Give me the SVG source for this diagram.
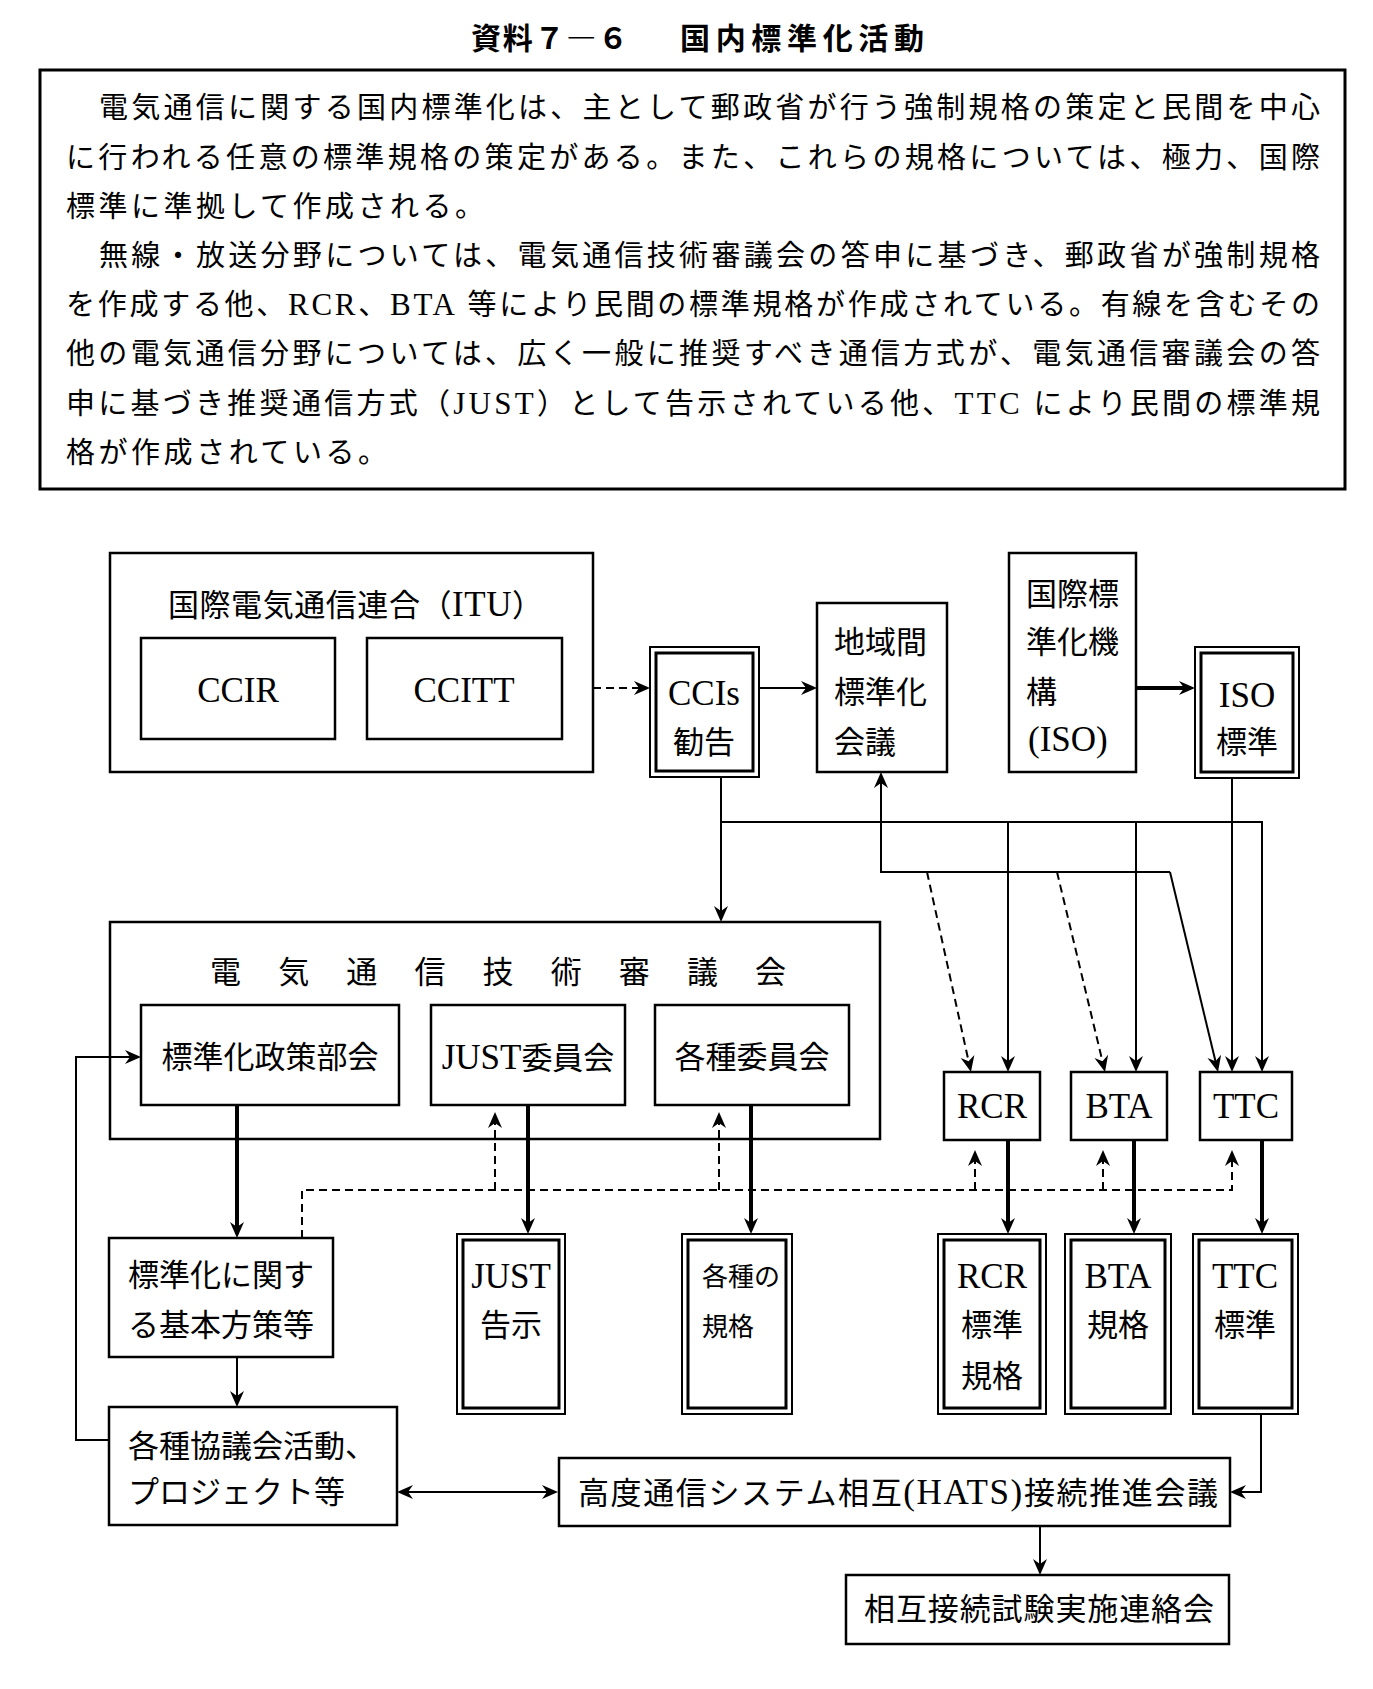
<svg xmlns="http://www.w3.org/2000/svg" width="1373" height="1689" viewBox="0 0 1373 1689">
<style>
.bg{fill:#fff}
.box{fill:#fff;stroke:#000;stroke-width:2.5}
.open{fill:none;stroke:#000;stroke-width:2.5}
.dbo{fill:#fff;stroke:#000;stroke-width:2}
.dbi{fill:none;stroke:#000;stroke-width:3}
.ln{fill:none;stroke:#000;stroke-width:2}
.thick{fill:none;stroke:#000;stroke-width:4}
.dash{fill:none;stroke:#000;stroke-width:2;stroke-dasharray:8 5}
text{font-family:"Liberation Serif","Noto Sans CJK JP",serif;fill:#000}
.t{font-size:31px}
.s{font-size:26px}
.m{text-anchor:middle}
.l{font-size:35px}
.body{font-size:29px}
.bl{font-size:31px}
.title{font-family:"Noto Sans CJK JP","Liberation Sans",sans-serif;font-size:30px;font-weight:bold}
</style>
<defs>
<marker id="ah" viewBox="-18 -9 24 18" refX="-4" refY="0" markerWidth="24" markerHeight="18" orient="auto-start-reverse" markerUnits="userSpaceOnUse">
<path d="M-16,-7 L0,0 L-16,7 L-11,0 Z" fill="#000"/>
</marker>
</defs>
<rect class="bg" x="0" y="0" width="1373" height="1689"/>

<g id="heading">
<text class="title" x="471" y="49" textLength="157" lengthAdjust="spacing">資料７―６</text>
<text class="title" x="680" y="49" textLength="244" lengthAdjust="spacing">国内標準化活動</text>
</g>

<g id="description">
<rect x="40" y="70" width="1305" height="419" fill="none" stroke="#000" stroke-width="3"/>
<text class="body" x="99" y="118" textLength="1221" lengthAdjust="spacing">電気通信に関する国内標準化は、主として郵政省が行う強制規格の策定と民間を中心</text>
<text class="body" x="66" y="168" textLength="1254" lengthAdjust="spacing">に行われる任意の標準規格の策定がある。また、これらの規格については、極力、国際</text>
<text class="body" x="66" y="217" textLength="418" lengthAdjust="spacing">標準に準拠して作成される。</text>
<text class="body" x="99" y="266" textLength="1221" lengthAdjust="spacing">無線・放送分野については、電気通信技術審議会の答申に基づき、郵政省が強制規格</text>
<text class="body" x="66" y="315" textLength="1254" lengthAdjust="spacing">を作成する他、<tspan class="bl">RCR</tspan>、<tspan class="bl">BTA</tspan> 等により民間の標準規格が作成されている。有線を含むその</text>
<text class="body" x="66" y="364" textLength="1254" lengthAdjust="spacing">他の電気通信分野については、広く一般に推奨すべき通信方式が、電気通信審議会の答</text>
<text class="body" x="66" y="414" textLength="1254" lengthAdjust="spacing">申に基づき推奨通信方式（<tspan class="bl">JUST</tspan>）として告示されている他、<tspan class="bl">TTC</tspan> により民間の標準規</text>
<text class="body" x="66" y="463" textLength="321" lengthAdjust="spacing">格が作成されている。</text>
</g>

<g id="connectors">
<path class="dash" d="M593,688 H646" marker-end="url(#ah)"/>
<path class="ln" d="M759,688 H813" marker-end="url(#ah)"/>
<path class="thick" d="M1137,688 H1191" marker-end="url(#ah)"/>
<path class="ln" d="M721,777 V918" marker-end="url(#ah)"/>
<path class="ln" d="M721,822 H1262 V1068" marker-end="url(#ah)"/>
<path class="ln" d="M1008,822 V1068" marker-end="url(#ah)"/>
<path class="ln" d="M1136,822 V1068" marker-end="url(#ah)"/>
<path class="ln" d="M1232,778 V1068" marker-end="url(#ah)"/>
<path class="ln" d="M1170,872 H881 V776" marker-end="url(#ah)"/>
<path class="ln" d="M1170,872 L1217.1,1068.1" marker-end="url(#ah)"/>
<path class="dash" d="M927,872 L970.1,1068.1" marker-end="url(#ah)"/>
<path class="dash" d="M1057,872 L1104.1,1068.1" marker-end="url(#ah)"/>
<path class="thick" d="M237,1105 V1234" marker-end="url(#ah)"/>
<path class="thick" d="M528,1105 V1230" marker-end="url(#ah)"/>
<path class="thick" d="M751,1105 V1230" marker-end="url(#ah)"/>
<path class="thick" d="M1008,1140 V1230" marker-end="url(#ah)"/>
<path class="thick" d="M1134,1140 V1230" marker-end="url(#ah)"/>
<path class="thick" d="M1262,1140 V1230" marker-end="url(#ah)"/>
<path class="dash" d="M302,1238 V1190 H1232 V1154" marker-end="url(#ah)"/>
<path class="dash" d="M495,1190 V1116" marker-end="url(#ah)"/>
<path class="dash" d="M719,1190 V1116" marker-end="url(#ah)"/>
<path class="dash" d="M975,1190 V1154" marker-end="url(#ah)"/>
<path class="dash" d="M1103,1190 V1154" marker-end="url(#ah)"/>
<path class="ln" d="M237,1357 V1403" marker-end="url(#ah)"/>
<path class="ln" d="M109,1440 H76 V1057 H137" marker-end="url(#ah)"/>
<path class="ln" d="M401,1492 H554" marker-start="url(#ah)" marker-end="url(#ah)"/>
<path class="ln" d="M1261,1414 V1492 H1234" marker-end="url(#ah)"/>
<path class="ln" d="M1040,1526 V1571" marker-end="url(#ah)"/>
</g>

<g id="itu">
<rect class="open" x="110" y="553" width="483" height="219"/>
<text class="t" x="168" y="616" textLength="375" lengthAdjust="spacing">国際電気通信連合（<tspan class="l">ITU</tspan>）</text>
</g>
<g id="ccir">
<rect class="box" x="141" y="638" width="194" height="101"/>
<text class="l m" x="238" y="702">CCIR</text>
</g>
<g id="ccitt">
<rect class="box" x="367" y="638" width="195" height="101"/>
<text class="l m" x="464" y="702">CCITT</text>
</g>
<g id="ccis">
<rect class="dbo" x="650" y="647" width="109" height="130"/>
<rect class="dbi" x="656" y="653" width="97" height="118"/>
<text class="l m" x="704" y="705">CCIs</text>
<text class="t m" x="704" y="753">勧告</text>
</g>
<g id="chiiki">
<rect class="box" x="817" y="603" width="130" height="169"/>
<text class="t" x="834" y="653">地域間</text>
<text class="t" x="834" y="703">標準化</text>
<text class="t" x="834" y="753">会議</text>
</g>
<g id="iso-org">
<rect class="box" x="1009" y="553" width="127" height="219"/>
<text class="t" x="1026" y="605">国際標</text>
<text class="t" x="1026" y="653">準化機</text>
<text class="t" x="1026" y="703">構</text>
<text class="l" x="1028" y="751">(ISO)</text>
</g>
<g id="iso-std">
<rect class="dbo" x="1195" y="647" width="104" height="131"/>
<rect class="dbi" x="1201" y="653" width="92" height="119"/>
<text class="l m" x="1247" y="707">ISO</text>
<text class="t m" x="1247" y="753">標準</text>
</g>

<g id="shingikai">
<rect class="open" x="110" y="922" width="770" height="217"/>
<text class="t" x="210" y="983" textLength="576" lengthAdjust="spacing">電気通信技術審議会</text>
</g>
<g id="seisaku-bukai">
<rect class="box" x="141" y="1005" width="258" height="100"/>
<text class="t m" x="270" y="1068">標準化政策部会</text>
</g>
<g id="just-iinkai">
<rect class="box" x="431" y="1005" width="194" height="100"/>
<text class="t m" x="528" y="1069"><tspan class="l">JUST</tspan>委員会</text>
</g>
<g id="kakushu-iinkai">
<rect class="box" x="655" y="1005" width="194" height="100"/>
<text class="t m" x="752" y="1068">各種委員会</text>
</g>
<g id="rcr">
<rect class="box" x="944" y="1072" width="96" height="68"/>
<text class="l m" x="992" y="1118">RCR</text>
</g>
<g id="bta">
<rect class="box" x="1071" y="1072" width="96" height="68"/>
<text class="l m" x="1119" y="1118">BTA</text>
</g>
<g id="ttc">
<rect class="box" x="1200" y="1072" width="92" height="68"/>
<text class="l m" x="1246" y="1118">TTC</text>
</g>

<g id="kihon-housaku">
<rect class="box" x="109" y="1238" width="224" height="119"/>
<text class="t" x="128" y="1286">標準化に関す</text>
<text class="t" x="128" y="1336">る基本方策等</text>
</g>
<g id="just-kokuji">
<rect class="dbo" x="457" y="1234" width="108" height="180"/>
<rect class="dbi" x="463" y="1240" width="96" height="168"/>
<text class="l m" x="511" y="1288">JUST</text>
<text class="t m" x="511" y="1336">告示</text>
</g>
<g id="kakushu-kikaku">
<rect class="dbo" x="682" y="1234" width="110" height="180"/>
<rect class="dbi" x="688" y="1240" width="98" height="168"/>
<text class="s" x="702" y="1286">各種の</text>
<text class="s" x="702" y="1336">規格</text>
</g>
<g id="rcr-kikaku">
<rect class="dbo" x="938" y="1234" width="108" height="180"/>
<rect class="dbi" x="944" y="1240" width="96" height="168"/>
<text class="l m" x="992" y="1288">RCR</text>
<text class="t m" x="992" y="1336">標準</text>
<text class="t m" x="992" y="1387">規格</text>
</g>
<g id="bta-kikaku">
<rect class="dbo" x="1065" y="1234" width="106" height="180"/>
<rect class="dbi" x="1071" y="1240" width="94" height="168"/>
<text class="l m" x="1118" y="1288">BTA</text>
<text class="t m" x="1118" y="1336">規格</text>
</g>
<g id="ttc-hyojun">
<rect class="dbo" x="1193" y="1234" width="105" height="180"/>
<rect class="dbi" x="1199" y="1240" width="93" height="168"/>
<text class="l m" x="1245" y="1288">TTC</text>
<text class="t m" x="1245" y="1336">標準</text>
</g>

<g id="kyogikai">
<rect class="box" x="109" y="1407" width="288" height="118"/>
<text class="t" x="128" y="1457">各種協議会活動、</text>
<text class="t" x="128" y="1503">プロジェクト等</text>
</g>
<g id="hats">
<rect class="box" x="559" y="1458" width="671" height="68"/>
<text class="t" x="578" y="1504" textLength="640" lengthAdjust="spacing">高度通信システム相互<tspan class="l">(HATS)</tspan>接続推進会議</text>
</g>
<g id="sogo-setsuzoku">
<rect class="box" x="846" y="1575" width="383" height="69"/>
<text class="t" x="864" y="1620" textLength="350" lengthAdjust="spacing">相互接続試験実施連絡会</text>
</g>
</svg>
